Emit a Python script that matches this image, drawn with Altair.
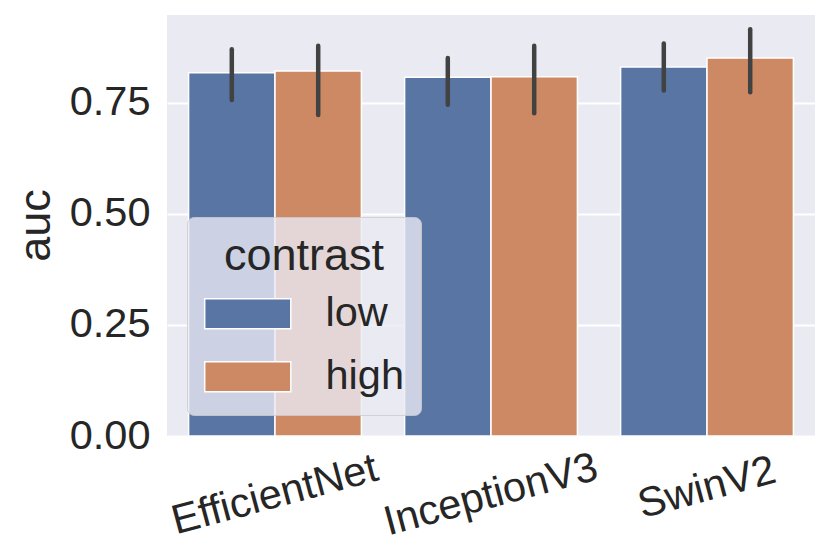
import altair as alt
import pandas as pd

models = ["EfficientNet", "InceptionV3", "SwinV2"]
contrasts = ["low", "high"]
model_col = ["EfficientNet", "EfficientNet", "InceptionV3", "InceptionV3", "SwinV2", "SwinV2"]
contrast_col = ["low", "high", "low", "high", "low", "high"]
auc_mean = [0.817, 0.821, 0.807, 0.808, 0.830, 0.850]
ci_lo = [0.756, 0.722, 0.745, 0.726, 0.777, 0.773]
ci_hi = [0.870, 0.878, 0.850, 0.878, 0.883, 0.915]
y_ticks = [0.0, 0.25, 0.5, 0.75]
colors = ["#5875A4", "#CC8963"]

df = pd.DataFrame({"model": model_col, "contrast": contrast_col,
                   "auc": auc_mean, "lo": ci_lo, "hi": ci_hi})

FONT = "Liberation Sans"
TXT = "#262626"

x_enc = alt.X("model:N", sort=models, title=None,
              scale=alt.Scale(paddingInner=0.2, paddingOuter=0.1),
              axis=alt.Axis(labelAngle=345, labelAlign="center", labelBaseline="middle",
                            labelFontSize=41.5, labelFont=FONT, labelColor=TXT,
                            labelLimit=0, labelOverlap=False,
                            labelPadding={"condition": {"test": "datum.value == 'SwinV2'", "value": 52},
                                          "value": 59},
                            ticks=False, tickSize=0, domain=False, grid=False))
xo_enc = alt.XOffset("contrast:N", sort=contrasts, scale=alt.Scale(domain=contrasts))

base = alt.Chart(df)

bars = base.mark_bar(stroke="white", strokeWidth=1.5, opacity=1).encode(
    x=x_enc,
    xOffset=xo_enc,
    y=alt.Y("auc:Q", title="auc",
            scale=alt.Scale(domain=[0, 0.947], nice=False),
            axis=alt.Axis(values=y_ticks, format=".2f", labelFontSize=41.5, labelFont=FONT,
                          labelColor=TXT, labelPadding=17, ticks=False, tickSize=0,
                          domain=False, grid=True, gridColor="white", gridWidth=2,
                          titleFontSize=45, titleFont=FONT, titleColor=TXT,
                          titleFontWeight="normal", titleAngle=270, titleX=-118, titleY=210,
                          titleAlign="center", titleBaseline="alphabetic")),
    color=alt.Color("contrast:N", sort=contrasts,
                    scale=alt.Scale(domain=contrasts, range=colors),
                    legend=alt.Legend(title="contrast", orient="none", legendX=20, legendY=202,
                                      titleFontSize=45, titleFont=FONT, titleColor=TXT,
                                      titleFontWeight="normal", titleAnchor="middle",
                                      labelFontSize=41.5, labelFont=FONT, labelColor=TXT,
                                      symbolType="M-2.87,-1L2.87,-1L2.87,1L-2.87,1Z",
                                      symbolSize=900, symbolStrokeColor="white",
                                      symbolStrokeWidth=1.5, symbolOpacity=1,
                                      symbolOffset=23, labelOffset=57,
                                      fillColor="rgba(234,234,242,0.8)",
                                      strokeColor="rgba(204,204,204,0.8)",
                                      cornerRadius=7, padding=17, rowPadding=20,
                                      titlePadding=14)),
)

err = base.mark_rule(color="#424242", strokeWidth=4.5, strokeCap="round").encode(
    x=x_enc,
    xOffset=xo_enc,
    y=alt.Y("lo:Q"),
    y2="hi:Q",
)

chart = alt.layer(bars, err).properties(
    width=648, height=421,
    autosize=alt.AutoSizeParams(type="none"),
    padding={"left": 159, "top": 7, "right": 8, "bottom": 115},
    background="white",
).configure_view(fill="#EAEAF2", stroke=None, strokeWidth=0)

chart.save("out.html", embed_options={"renderer": "svg", "actions": False})
